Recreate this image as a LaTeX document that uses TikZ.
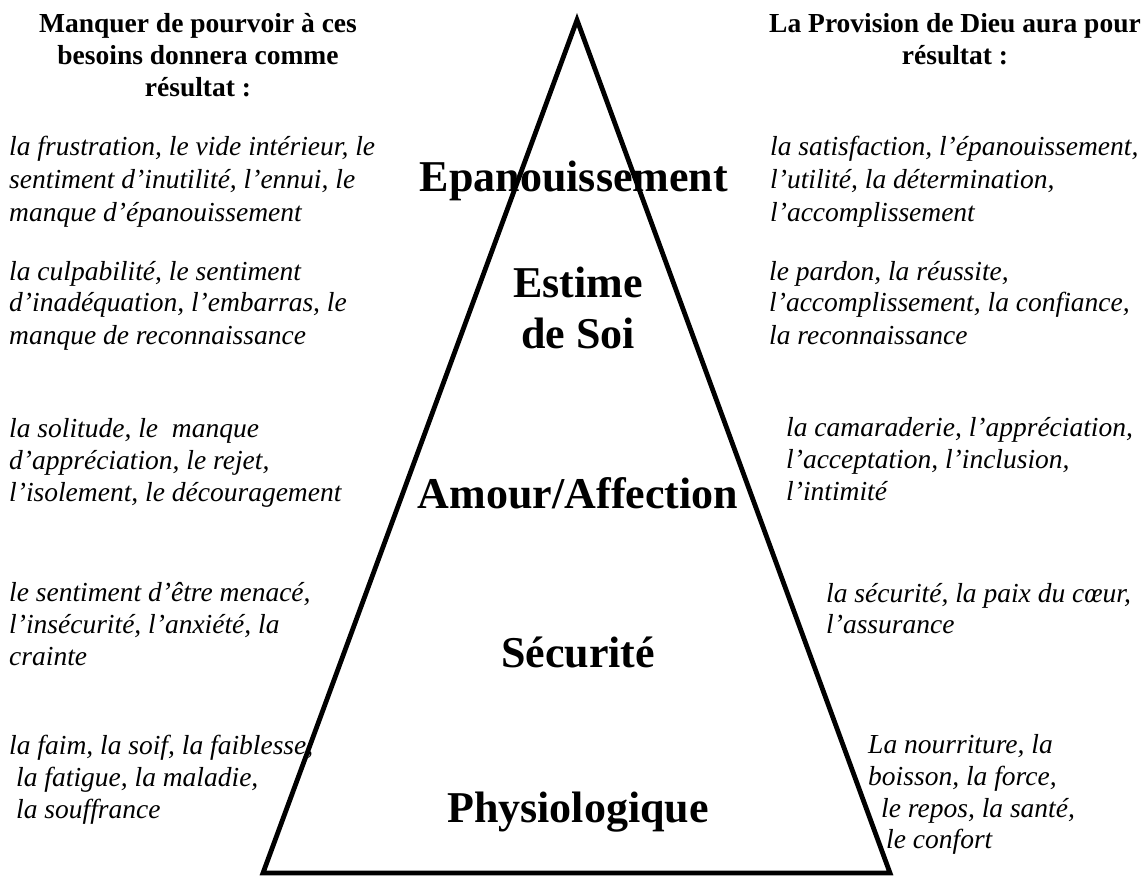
\documentclass[tikz,border=0pt]{standalone}
\usepackage{fontspec}
\setmainfont{Liberation Serif}
\begin{document}
\begin{tikzpicture}[x=1pt,y=-1pt,
  body/.style={anchor=base west, inner sep=0pt, font=\fontsize{27.5}{33}\selectfont\itshape},
  head/.style={anchor=base, inner sep=0pt, font=\fontsize{27.5}{32}\selectfont\bfseries},
  level/.style={anchor=base, inner sep=0pt, font=\fontsize{44}{52}\selectfont\bfseries},
  pyr/.style={line width=4.8pt, line join=miter}]
\useasboundingbox (0,0) rectangle (1148,877);
% pyramid
\coordinate (apex) at (577,20);
\coordinate (bl) at (263,873);
\coordinate (br) at (890,873);
\draw[pyr] (apex) -- (bl) -- (br) -- cycle;
% headers
\node[head] (hl1) at (198,33) {Manquer de pourvoir à ces};
\node[head] (hl2) at (198,65) {besoins donnera comme};
\node[head] (hl3) at (198,97) {résultat :};
\node[head] (hr1) at (955,33) {La Provision de Dieu aura pour};
\node[head] (hr2) at (955,65) {résultat :};
% levels
\node[level] (lv1) at (574,192) {Epanouissement};
\node[level] (lv2a) at (578,298) {Estime};
\node[level] (lv2b) at (578,348) {de Soi};
\node[level] (lv3) at (578,508) {Amour/Affection};
\node[level] (lv4) at (578,667) {Sécurité};
\node[level] (lv5) at (578,822) {Physiologique};
% left texts
\node[body] (a1) at (9,156) {la frustration, le vide intérieur, le};
\node[body] (a2) at (9,189) {sentiment d’inutilité, l’ennui, le};
\node[body] (a3) at (9,222) {manque d’épanouissement};
\node[body] (b1) at (9,280) {la culpabilité, le sentiment};
\node[body] (b2) at (9,312) {d’inadéquation, l’embarras, le};
\node[body] (b3) at (9,344) {manque de reconnaissance};
\node[body] (c1) at (9,437) {la solitude, le\ \ manque};
\node[body] (c2) at (9,469) {d’appréciation, le rejet,};
\node[body] (c3) at (9,501) {l’isolement, le découragement};
\node[body] (d1) at (9,601) {le sentiment d’être menacé,};
\node[body] (d2) at (9,633) {l’insécurité, l’anxiété, la};
\node[body] (d3) at (9,665) {crainte};
\node[body] (e1) at (9,754) {la faim, la soif, la faiblesse,};
\node[body] (e2) at (16,786) {la fatigue, la maladie,};
\node[body] (e3) at (16,818) {la souffrance};
% right texts
\node[body] (f1) at (770,156) {la satisfaction, l’épanouissement,};
\node[body] (f2) at (770,189) {l’utilité, la détermination,};
\node[body] (f3) at (770,222) {l’accomplissement};
\node[body] (g1) at (769,280) {le pardon, la réussite,};
\node[body] (g2) at (769,312) {l’accomplissement, la confiance,};
\node[body] (g3) at (769,344) {la reconnaissance};
\node[body] (h1) at (786,436) {la camaraderie, l’appréciation,};
\node[body] (h2) at (786,468) {l’acceptation, l’inclusion,};
\node[body] (h3) at (786,500) {l’intimité};
\node[body] (i1) at (826,602) {la sécurité, la paix du cœur,};
\node[body] (i2) at (826,633) {l’assurance};
\node[body] (j1) at (868,753) {La nourriture, la};
\node[body] (j2) at (868,785) {boisson, la force,};
\node[body] (j3) at (881,817) {le repos, la santé,};
\node[body] (j4) at (886,848) {le confort};
\end{tikzpicture}
\end{document}
